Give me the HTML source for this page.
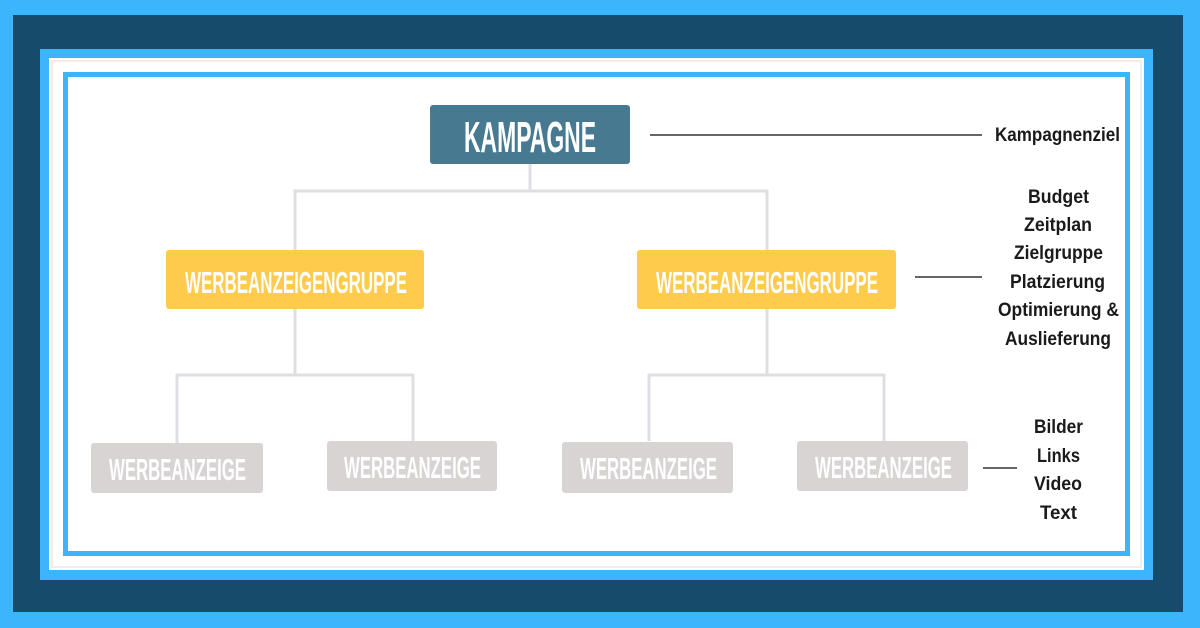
<!DOCTYPE html>
<html><head><meta charset="utf-8"><style>
html,body{margin:0;padding:0;width:1200px;height:628px;overflow:hidden;background:#3cb5fc}
svg{display:block}
</style></head><body>
<svg width="1200" height="628" viewBox="0 0 1200 628" xmlns="http://www.w3.org/2000/svg">
<rect x="0" y="0" width="1200" height="628" fill="#3cb5fc"/>
<rect x="13" y="15" width="1170" height="597" fill="#164b6b"/>
<rect x="40" y="49" width="1113" height="531" fill="#3cb5fc"/>
<rect x="49" y="58" width="1095" height="512" fill="#ffffff"/>
<rect x="52" y="61" width="1089" height="506" fill="none" stroke="#eeeeee" stroke-width="2"/>
<rect x="65.5" y="74.5" width="1062" height="479" fill="#ffffff" stroke="#3cb5fc" stroke-width="5"/>

<g stroke="#dfdfe3" stroke-width="3" fill="none">
<path d="M530 164 V191 M295 250 V191 H767 V250"/>
<path d="M295 309 V375 M177 443 V375 H413 V441"/>
<path d="M767 309 V375 M649 441 V375 H884 V441"/>
</g>
<g stroke="#666" stroke-width="2">
<line x1="650" y1="135" x2="982" y2="135"/>
<line x1="915" y1="277" x2="982" y2="277"/>
<line x1="983" y1="468" x2="1017" y2="468"/>
</g>

<rect x="430" y="105" width="200" height="59" rx="3" fill="#477a90"/>
<rect x="166" y="250" width="258" height="59" rx="3" fill="#ffcb4c"/>
<rect x="637" y="250" width="259" height="59" rx="3" fill="#ffcb4c"/>
<rect x="91" y="443" width="172" height="50" rx="3" fill="#d8d4d4"/>
<rect x="327" y="441" width="170" height="50" rx="3" fill="#d8d4d4"/>
<rect x="562" y="442" width="171" height="51" rx="3" fill="#d8d4d4"/>
<rect x="797" y="441" width="171" height="50" rx="3" fill="#d8d4d4"/>

<g font-family="'Liberation Sans',sans-serif" font-weight="bold" fill="#ffffff">
<text x="464" y="152" font-size="44" textLength="132" lengthAdjust="spacingAndGlyphs">KAMPAGNE</text>
<text x="185" y="293" font-size="31" textLength="222" lengthAdjust="spacingAndGlyphs">WERBEANZEIGENGRUPPE</text>
<text x="656" y="293" font-size="31" textLength="222" lengthAdjust="spacingAndGlyphs">WERBEANZEIGENGRUPPE</text>
<text x="109" y="480" font-size="31" textLength="137" lengthAdjust="spacingAndGlyphs">WERBEANZEIGE</text>
<text x="344" y="478" font-size="31" textLength="137" lengthAdjust="spacingAndGlyphs">WERBEANZEIGE</text>
<text x="580" y="479" font-size="31" textLength="137" lengthAdjust="spacingAndGlyphs">WERBEANZEIGE</text>
<text x="815" y="478" font-size="31" textLength="137" lengthAdjust="spacingAndGlyphs">WERBEANZEIGE</text>
</g>

<g font-family="'Liberation Sans',sans-serif" font-weight="bold" fill="#1a1a1a" font-size="19" lengthAdjust="spacingAndGlyphs">
<text x="995" y="141" textLength="125" lengthAdjust="spacingAndGlyphs">Kampagnenziel</text>
<text x="1028" y="203" textLength="61" lengthAdjust="spacingAndGlyphs">Budget</text>
<text x="1024" y="231" textLength="68" lengthAdjust="spacingAndGlyphs">Zeitplan</text>
<text x="1014" y="259" textLength="89" lengthAdjust="spacingAndGlyphs">Zielgruppe</text>
<text x="1010" y="288" textLength="95" lengthAdjust="spacingAndGlyphs">Platzierung</text>
<text x="998" y="316" textLength="121" lengthAdjust="spacingAndGlyphs">Optimierung &amp;</text>
<text x="1005" y="345" textLength="106" lengthAdjust="spacingAndGlyphs">Auslieferung</text>
<text x="1034" y="433" textLength="49" lengthAdjust="spacingAndGlyphs">Bilder</text>
<text x="1037" y="462" textLength="43" lengthAdjust="spacingAndGlyphs">Links</text>
<text x="1034" y="490" textLength="48" lengthAdjust="spacingAndGlyphs">Video</text>
<text x="1040" y="519" textLength="37" lengthAdjust="spacingAndGlyphs">Text</text>
</g>
</svg>
</body></html>
